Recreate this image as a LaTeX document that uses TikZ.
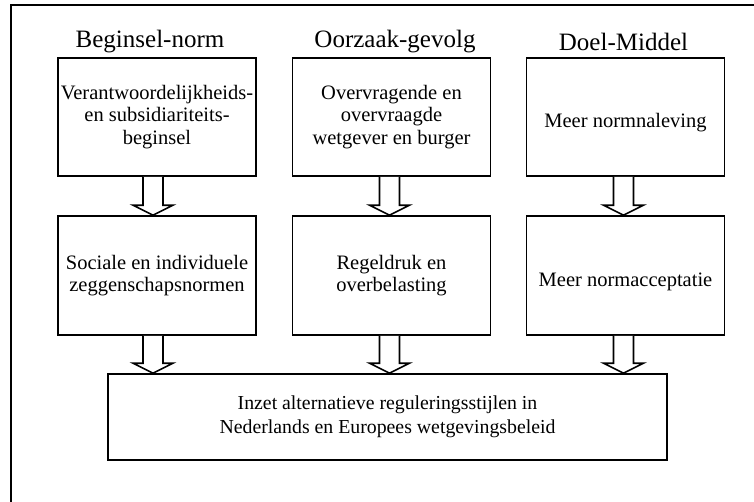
\documentclass[tikz,border=0pt]{standalone}
\usepackage{fontspec}
\setmainfont{Liberation Serif}
\usetikzlibrary{calc}

\tikzset{
  box/.style={draw, line width=1.6pt, align=center, inner xsep=1pt, inner ysep=0pt,
    font=\fontsize{20.5}{22.5}\selectfont},
  toprow/.style={box, minimum width=198pt, minimum height=118pt},
  midrow/.style={box, minimum width=198pt, minimum height=119pt},
  lowtext/.style={text height=26pt, text depth=4.5pt},
  basebox/.style={box, minimum width=559pt, minimum height=86pt,
    font=\fontsize{19.8}{23.5}\selectfont},
  heading/.style={font=\fontsize{25}{28}\selectfont, inner sep=0pt},
  barrow/.style={draw, line width=1.6pt, fill=white, line join=miter},
  frame/.style={draw, line width=1.4pt}
}

% hollow block arrow: shaft top #1, tip #2
\newcommand\blockarrow[2]{%
  \path[barrow] let \p1=(#1), \p2=(#2) in
    (\x1-10pt,\y1) -- (\x1-10pt,\y2+10pt) -- (\x1-20pt,\y2+10pt) -- (\x1,\y2)
    -- (\x1+20pt,\y2+10pt) -- (\x1+10pt,\y2+10pt) -- (\x1+10pt,\y1);}

\begin{document}
\begin{tikzpicture}[x=1pt, y=-1pt]
  \useasboundingbox (0,0) rectangle (754,501);
  \clip (0,0) rectangle (754,501);

  % surrounding frame, running off the right and bottom edges
  \draw[frame] (760,5) -- (11,5) -- (11,510);

  % column headings
  \node[heading] (h1) at (150,42) {Beginsel-norm};
  \node[heading] (h2) at (395,42) {Oorzaak-gevolg};
  \node[heading] (h3) at (623.5,42) {Doel-Middel};

  % first row
  \node[toprow] (a1) at (157,117) {Verantwoordelijkheids-\\en subsidiariteits-\\beginsel};
  \node[toprow] (a2) at (391.5,117) {Overvragende en\\overvraagde\\wetgever en burger};
  \node[toprow, lowtext] (a3) at (625.5,117) {Meer normnaleving};

  % second row
  \node[midrow] (b1) at (157,275.5) {Sociale en individuele\\zeggenschapsnormen};
  \node[midrow] (b2) at (391.5,275.5) {Regeldruk en\\overbelasting};
  \node[midrow, lowtext] (b3) at (625.5,275.5) {Meer normacceptatie};

  % common outcome
  \node[basebox] (c) at (387.5,417) {Inzet alternatieve reguleringsstijlen in\\Nederlands en Europees wetgevingsbeleid};

  % arrow anchor points
  \coordinate (p1) at ($(a1.south)+(-4,0)$);
  \coordinate (p2) at ($(a2.south)+(-2,0)$);
  \coordinate (p3) at ($(a3.south)+(-2,0)$);
  \coordinate (q1) at ($(b1.south)+(-4,0)$);
  \coordinate (q2) at ($(b2.south)+(-2,0)$);
  \coordinate (q3) at ($(b3.south)+(-2,0)$);

  \blockarrow{p1}{p1 |- b1.north}
  \blockarrow{p2}{p2 |- b2.north}
  \blockarrow{p3}{p3 |- b3.north}
  \blockarrow{q1}{q1 |- c.north}
  \blockarrow{q2}{q2 |- c.north}
  \blockarrow{q3}{q3 |- c.north}
\end{tikzpicture}
\end{document}
